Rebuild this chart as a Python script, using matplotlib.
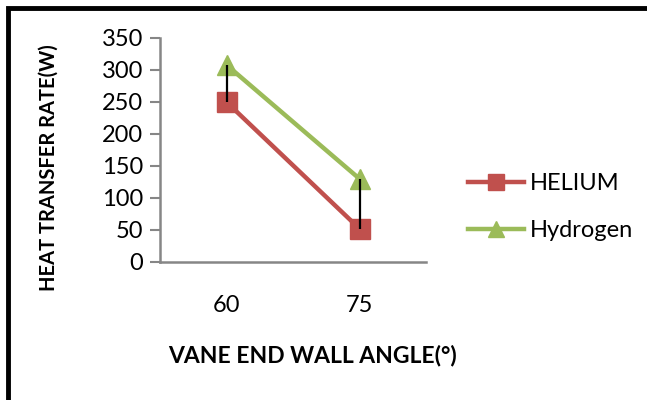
import matplotlib
matplotlib.use("Agg")
import matplotlib.pyplot as plt
from matplotlib.patches import Rectangle

categories = ["60", "75"]
helium = [250, 52]
hydrogen = [308, 130]
yticks = [0, 50, 100, 150, 200, 250, 300, 350]

fam = ['Lato', 'DejaVu Sans']

fig = plt.figure(figsize=(6.47, 4.0), dpi=100)
ax = fig.add_axes([160/647, (400-262)/400, (426-160)/647, (262-38)/400])

x = list(range(len(categories)))
ax.plot(x, helium, color='#C0504D', lw=3.2, marker='s', ms=15, label='HELIUM', zorder=3)
ax.plot(x, hydrogen, color='#9BBB59', lw=3.2, marker='^', ms=15, label='Hydrogen', zorder=3)
ax.vlines(x, helium, hydrogen, color='black', lw=1.6, zorder=4)

ax.set_xlim(-0.5, len(categories) - 0.5)
ax.set_ylim(0, 350)
ax.set_yticks(yticks)
ax.set_xticks(x)
ax.set_xticklabels(categories, fontsize=17, family=fam)
ax.set_yticklabels([str(v) for v in yticks], fontsize=17, family=fam)
ax.tick_params(axis='x', length=0, pad=24)
ax.tick_params(axis='y', length=7, width=1.5, color='#868686', pad=5)
for s in ['top', 'right']:
    ax.spines[s].set_visible(False)
for s in ['left', 'bottom']:
    ax.spines[s].set_color('#868686')
    ax.spines[s].set_linewidth(1.8)

ax.set_ylabel('HEAT TRANSFER RATE(W)', fontsize=14.5, fontweight='bold', family=fam)
ax.yaxis.set_label_coords(-(160-59)/266, (262-168)/224)
fig.text(313/647, 1 - 355/400, 'VANE END WALL ANGLE(°)', fontsize=16.5, fontweight='bold',
         family=fam, ha='center', va='center')

leg = fig.legend(loc='center left', bbox_to_anchor=(447/647, 1 - 207/400), frameon=False,
                 prop={'family': fam, 'size': 17}, handlelength=2.35, labelspacing=1.1,
                 handletextpad=0.25, markerscale=0.8)

fig.patches.append(Rectangle((8/647, -0.1), 1.2, 1 - 7.5/400 + 0.1, transform=fig.transFigure,
                             fill=False, edgecolor='black', lw=3.5))
fig.savefig('out.png', dpi=100)
